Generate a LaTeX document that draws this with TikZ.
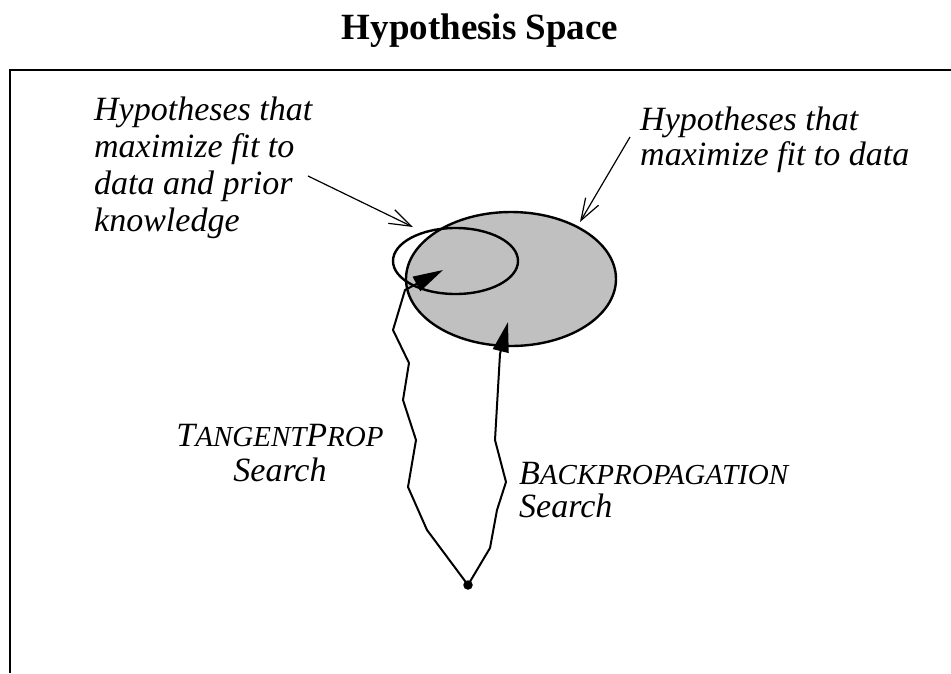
\documentclass[tikz,border=0pt]{standalone}
\usepackage{fontspec}
\setmainfont{Liberation Serif}
\usetikzlibrary{arrows.meta,shapes.geometric}
\definecolor{hsgray}{RGB}{192,192,192}
\newcommand\mysmc[1]{{\fontsize{29}{29}\selectfont #1}}
\begin{document}
\begin{tikzpicture}[x=1pt,y=-1pt,
  lbl/.style={font=\fontsize{34}{37}\selectfont\itshape, inner sep=0pt},
  walk/.style={line width=2pt, line join=miter},
  bigtip/.style={-{Triangle[length=30pt,width=16pt]}},
  pointer/.style={line width=1.2pt, -{Straight Barb[length=22pt,width=15pt]}},
  region/.style={draw, ellipse, inner sep=0pt, line width=2.4pt}
  ]
\useasboundingbox (0,0) rectangle (951,673);
% title
\node[font=\fontsize{37}{40}\selectfont\bfseries, anchor=base, inner sep=0pt] (title) at (480,39) {Hypothesis Space};
% frame
\draw[line width=1.8pt] (10,673) -- (10,70) -- (951,70);
% regions
\node[region, fill=hsgray, minimum width=210pt, minimum height=134pt] (big) at (511,279) {};
\node[region, minimum width=125pt, minimum height=66pt] (small) at (455.5,261) {};
% start point
\node[circle, fill=black, inner sep=0pt, minimum size=9.5pt] (start) at (468,585) {};
% TangentProp walk
\coordinate (t1) at (427,530);
\coordinate (t2) at (408,487);
\coordinate (t3) at (416,440);
\coordinate (t4) at (403,400);
\coordinate (t5) at (409,363);
\coordinate (t6) at (393,330);
\coordinate (t7) at (405,290);
\coordinate (tend) at (443,270);
\draw[walk, bigtip] (start.center) -- (t1) -- (t2) -- (t3) -- (t4) -- (t5) -- (t6) -- (t7) -- (tend);
% Backpropagation walk
\coordinate (b1) at (490,548);
\coordinate (b2) at (497,510);
\coordinate (b3) at (506,482);
\coordinate (b4) at (495,440);
\coordinate (b5) at (500,354);
\coordinate (bend) at (508,322);
\draw[walk, bigtip] (start.center) -- (b1) -- (b2) -- (b3) -- (b4) -- (b5) -- (bend);
% labels
\node[lbl, align=left, anchor=north west] (leftlbl) at (94,97)
  {Hypotheses that\\maximize fit to\\data and prior\\knowledge};
\node[lbl, align=left, anchor=north west, font=\fontsize{34}{35}\selectfont\itshape] (rightlbl) at (640,107)
  {Hypotheses that\\maximize fit to data};
\node[lbl, align=center, anchor=north, font=\fontsize{34}{35}\selectfont\itshape] (tplbl) at (280,424)
  {T\mysmc{ANGENT}P\mysmc{ROP}\\Search};
\node[lbl, align=left, anchor=north west, font=\fontsize{34}{33}\selectfont\itshape] (bplbl) at (519,462)
  {B\mysmc{ACKPROPAGATION}\\Search};
% pointers
\coordinate (lp0) at (308,176);
\coordinate (lp1) at (413,227);
\coordinate (rp0) at (630,137);
\coordinate (rp1) at (580,222);
\draw[pointer] (lp0) -- (lp1);
\draw[pointer] (rp0) -- (rp1);
\end{tikzpicture}
\end{document}
